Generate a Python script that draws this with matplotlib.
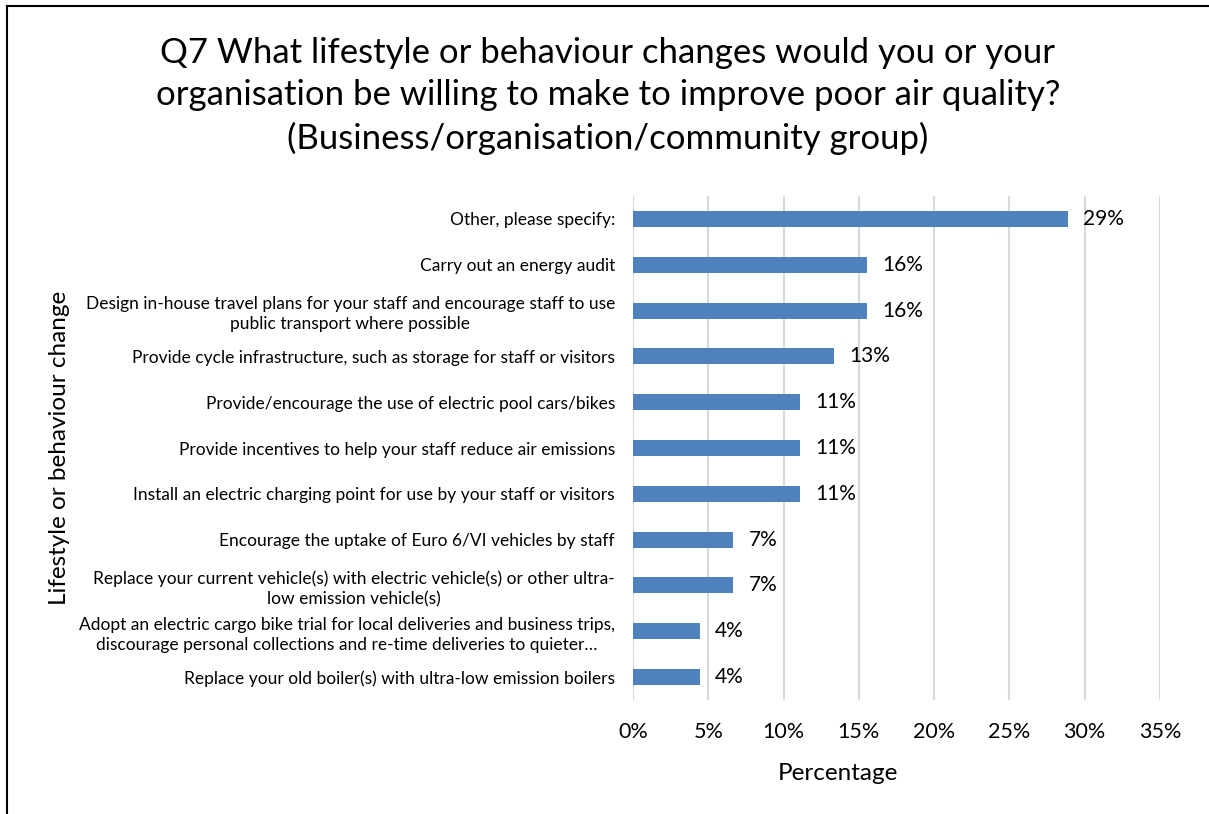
import matplotlib.pyplot as plt
from matplotlib.lines import Line2D

plt.rcParams['font.family'] = ['Lato', 'DejaVu Sans']

# survey answers, top to bottom, counts out of 45 respondents
changes = [
    "Other, please specify:",
    "Carry out an energy audit",
    "Design in-house travel plans for your staff and encourage staff to use\npublic transport where possible",
    "Provide cycle infrastructure, such as storage for staff or visitors",
    "Provide/encourage the use of electric pool cars/bikes",
    "Provide incentives to help your staff reduce air emissions",
    "Install an electric charging point for use by your staff or visitors",
    "Encourage the uptake of Euro 6/VI vehicles by staff",
    "Replace your current vehicle(s) with electric vehicle(s) or other ultra-\nlow emission vehicle(s)",
    "Adopt an electric cargo bike trial for local deliveries and business trips,\ndiscourage personal collections and re-time deliveries to quieter…",
    "Replace your old boiler(s) with ultra-low emission boilers",
]
counts = [13, 7, 7, 6, 5, 5, 5, 3, 3, 2, 2]
respondents = 45
pct = [c / respondents * 100 for c in counts]

xticks = [0, 5, 10, 15, 20, 25, 30, 35]

fig = plt.figure(figsize=(12.09, 8.14), dpi=100)
ax = fig.add_axes([633 / 1209, 1 - 700 / 814, (1160 - 633) / 1209, (700 - 196) / 814])

pos = list(range(len(changes)))
ax.barh(pos, pct, height=0.35, color='#4F81BD', zorder=3)
for y, v in zip(pos, pct):
    ax.text(v + 1.0, y, f"{round(v)}%", va='center', ha='left', fontsize=15, color='#000000')

ax.set_ylim(len(changes) - 0.5, -0.5)
ax.set_xlim(0, 35)
ax.set_xticks(xticks)
ax.set_xticklabels([f"{t}%" for t in xticks], fontsize=15.5)
ax.set_yticks(pos)
ax.set_yticklabels(changes, fontsize=12.5, multialignment='center', linespacing=1.3)
ax.tick_params(axis='both', length=0)
ax.tick_params(axis='x', pad=16)
ax.tick_params(axis='y', pad=13)
ax.grid(axis='x', color='#D9D9D9', linewidth=1.5, zorder=0)
for s in ax.spines.values():
    s.set_visible(False)

fig.text(838 / 1209, 1 - 773 / 814, "Percentage", fontsize=17.5, ha='center', va='center')
fig.text(60 / 1209, 1 - 448 / 814, "Lifestyle or behaviour change", rotation=90,
         fontsize=17.5, ha='center', va='center')

fig.text(608 / 1209, 1 - 96 / 814,
         "Q7 What lifestyle or behaviour changes would you or your\n"
         "organisation be willing to make to improve poor air quality?\n"
         "(Business/organisation/community group)",
         fontsize=25, ha='center', va='center', linespacing=1.38)

# chart frame
fig.add_artist(Line2D([7 / 1209, 7 / 1209], [0, 1 - 6 / 814], color='black', linewidth=1.5))
fig.add_artist(Line2D([7 / 1209, 1], [1 - 6 / 814, 1 - 6 / 814], color='black', linewidth=1.5))

fig.savefig('out.png', dpi=100)
